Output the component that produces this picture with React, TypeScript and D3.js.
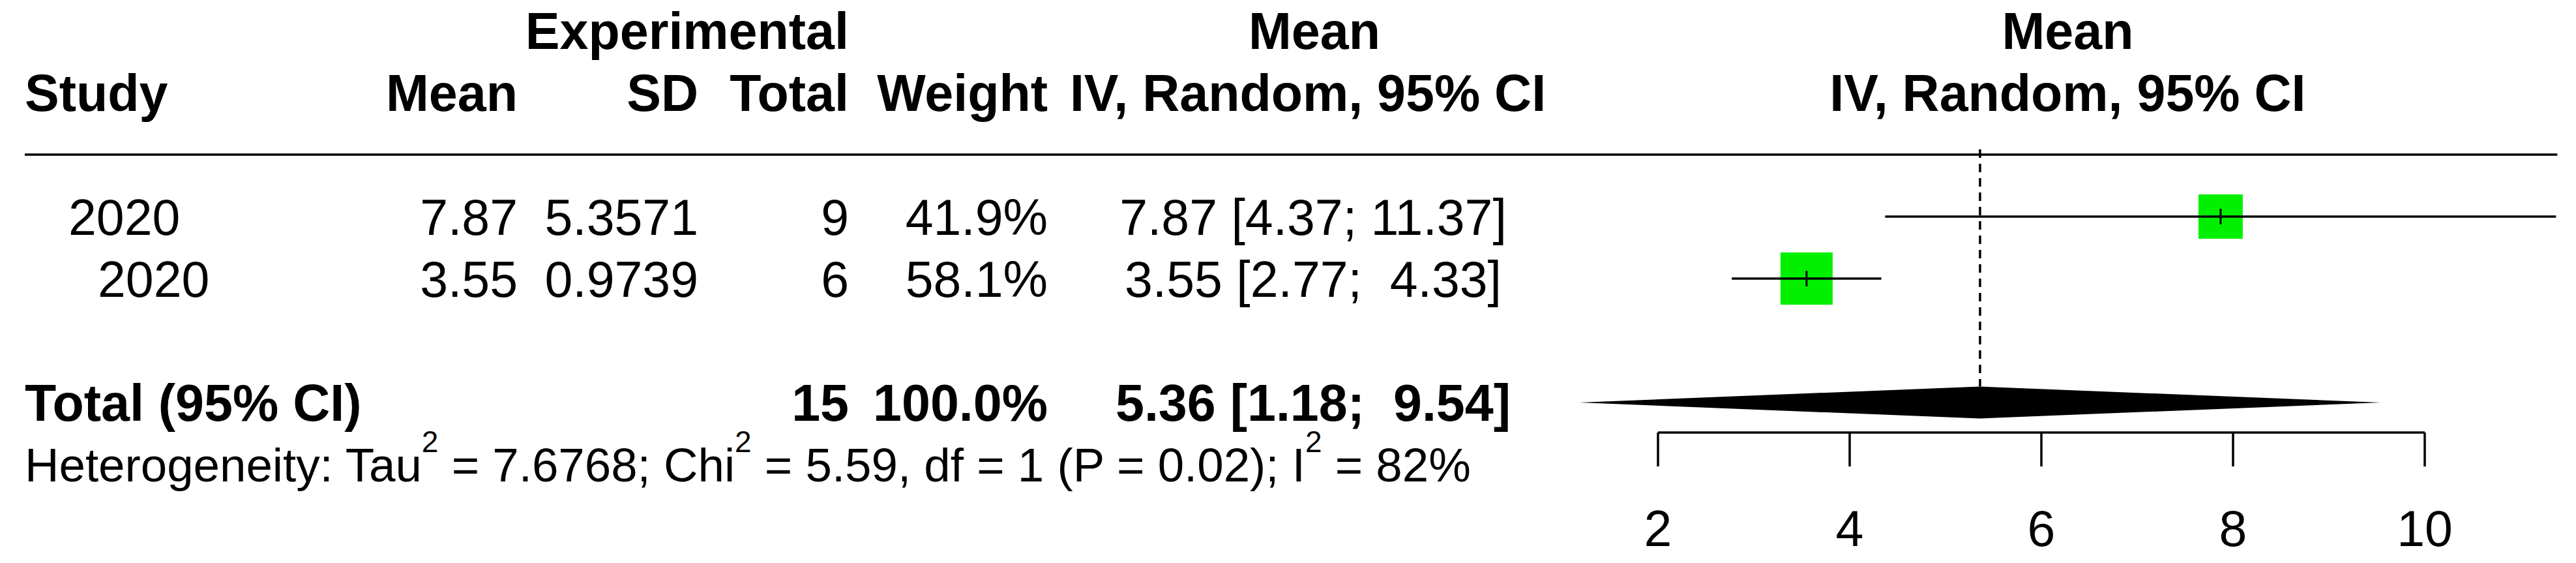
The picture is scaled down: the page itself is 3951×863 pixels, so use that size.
import React from 'react';
import * as d3 from 'd3';

// ---------- data ----------
const studyLabels = ['2020', '2020'];
const expMean = [7.87, 3.55];
const expSD = [5.3571, 0.9739];
const expTotal = [9, 6];
const weights = [41.9, 58.1];
const estimates = [7.87, 3.55];
const lowerCI = [4.37, 2.77];
const upperCI = [11.37, 4.33];
const pooledEst = 5.36;
const pooledLower = 1.18;
const pooledUpper = 9.54;
const pooledTotal = 15;
const pooledWeight = 100.0;
const hetTau2 = 7.6768;
const hetChi2 = 5.59;
const hetDf = 1;
const hetP = 0.02;
const hetI2 = 82;
const axisTicks = [2, 4, 6, 8, 10];

// ---------- layout ----------
const W = 3951;
const H = 863;
const FONT = '"Liberation Sans", Arial, Helvetica, sans-serif';
const FS = 77; // regular
const FSB = 79; // bold
const FSH = 72.7; // heterogeneity
const SUP = 46;
const studyX = 38;
const studyIndent = [105, 150];
const meanR = 794;
const sdR = 1071;
const totalR = 1302;
const weightR = 1607;
const effC = 2014;
const effHeadMeanC = 2016;
const effHeadC = 2006;
const GREEN = '#00f000';

const yRow = d3.scaleLinear().domain([0, 1]).range([332, 427]);
const x = d3.scaleLinear().domain([2, 10]).range([2543, 3719]);
const plotLo = d3.min(lowerCI.concat([pooledLower])) as number;
const plotHi = d3.max(upperCI.concat([pooledUpper])) as number;
const plotC = x((plotLo + plotHi) / 2);

const base = (cy: number, fs: number) => cy + 0.358 * fs;
const f2 = (v: number) => v.toFixed(2);
const ciText = (e: number, lo: number, hi: number, hiMax: number) => {
  const hs = f2(hi);
  const pad = f2(hiMax).length - hs.length;
  return `${f2(e)} [${f2(lo)}; ${' '.repeat(Math.max(0, pad))}${hs}]`;
};

export default function App() {
  const hiMax = d3.max(upperCI.concat([pooledUpper])) as number;
  const headerY1 = yRow(-3);
  const headerY2 = yRow(-2);
  const lineY = yRow(-1);
  const totalY = yRow(3);
  const hetY = yRow(4);
  const axisY = 663;
  const tickLen = 52;
  const tickLabelY = 837;
  const diamondH = 24.5;
  const boxK = 80 / Math.sqrt(d3.max(weights) as number);

  const txt = (props: any, s: string, bold = false) => (
    <text
      {...props}
      fontFamily={FONT}
      fontSize={bold ? FSB : FS}
      fontWeight={bold ? 'bold' : 'normal'}
      fill="#000"
      style={{ whiteSpace: 'pre' }}
    >
      {s}
    </text>
  );

  return (
    <svg
      width={W}
      height={H}
      viewBox={`0 0 ${W} ${H}`}
      style={{ position: 'absolute', left: 0, top: 0, display: 'block', background: '#fff' }}
    >
      <rect x={0} y={0} width={W} height={H} fill="#fff" />
      {/* headers */}
      {txt({ x: totalR, y: base(headerY1, FSB), textAnchor: 'end' }, 'Experimental', true)}
      {txt({ x: effHeadMeanC, y: base(headerY1, FSB), textAnchor: 'middle' }, 'Mean', true)}
      {txt({ x: plotC, y: base(headerY1, FSB), textAnchor: 'middle' }, 'Mean', true)}
      {txt({ x: studyX, y: base(headerY2, FSB), textAnchor: 'start' }, 'Study', true)}
      {txt({ x: meanR, y: base(headerY2, FSB), textAnchor: 'end' }, 'Mean', true)}
      {txt({ x: sdR, y: base(headerY2, FSB), textAnchor: 'end' }, 'SD', true)}
      {txt({ x: totalR, y: base(headerY2, FSB), textAnchor: 'end' }, 'Total', true)}
      {txt({ x: weightR, y: base(headerY2, FSB), textAnchor: 'end' }, 'Weight', true)}
      {txt({ x: effHeadC, y: base(headerY2, FSB), textAnchor: 'middle' }, 'IV, Random, 95% CI', true)}
      {txt({ x: plotC, y: base(headerY2, FSB), textAnchor: 'middle' }, 'IV, Random, 95% CI', true)}

      <line x1={studyX} x2={x(plotHi) + 2} y1={lineY} y2={lineY} stroke="#000" strokeWidth={3.5} />

      {/* reference dashed line at pooled estimate */}
      <line
        x1={x(pooledEst)}
        x2={x(pooledEst)}
        y1={lineY - 8}
        y2={totalY - diamondH}
        stroke="#000"
        strokeWidth={3.5}
        strokeDasharray="13,9"
      />

      {/* study rows */}
      {studyLabels.map((s, i) => {
        const cy = yRow(i);
        const b = base(cy, FS);
        const side = boxK * Math.sqrt(weights[i]);
        return (
          <g key={i}>
            {txt({ x: studyIndent[i], y: b, textAnchor: 'start' }, s)}
            {txt({ x: meanR, y: b, textAnchor: 'end' }, f2(expMean[i]))}
            {txt({ x: sdR, y: b, textAnchor: 'end' }, expSD[i].toFixed(4))}
            {txt({ x: totalR, y: b, textAnchor: 'end' }, String(expTotal[i]))}
            {txt({ x: weightR, y: b, textAnchor: 'end' }, weights[i].toFixed(1) + '%')}
            {txt({ x: effC, y: b, textAnchor: 'middle' }, ciText(estimates[i], lowerCI[i], upperCI[i], hiMax))}
            <rect
              x={x(estimates[i]) - side / 2}
              y={cy - side / 2}
              width={side}
              height={side}
              fill={GREEN}
            />
            <line x1={x(lowerCI[i])} x2={x(upperCI[i])} y1={cy} y2={cy} stroke="#000" strokeWidth={3.5} />
            <line
              x1={x(estimates[i])}
              x2={x(estimates[i])}
              y1={cy - 12}
              y2={cy + 12}
              stroke="#000"
              strokeWidth={3}
            />
          </g>
        );
      })}

      {/* total row */}
      {txt({ x: studyX, y: base(totalY, FSB), textAnchor: 'start' }, 'Total (95% CI)', true)}
      {txt({ x: totalR, y: base(totalY, FSB), textAnchor: 'end' }, String(pooledTotal), true)}
      {txt({ x: weightR, y: base(totalY, FSB), textAnchor: 'end' }, pooledWeight.toFixed(1) + '%', true)}
      {txt({ x: effC, y: base(totalY, FSB), textAnchor: 'middle' }, ciText(pooledEst, pooledLower, pooledUpper, hiMax), true)}
      <polygon
        points={[
          [x(pooledLower), totalY],
          [x(pooledEst), totalY - diamondH],
          [x(pooledUpper), totalY],
          [x(pooledEst), totalY + diamondH],
        ]
          .map((p) => p.join(','))
          .join(' ')}
        fill="#000"
      />

      {/* heterogeneity */}
      <text x={studyX} y={base(hetY, FSH)} fontFamily={FONT} fontSize={FSH} fill="#000" style={{ whiteSpace: 'pre' }}>
        <tspan>Heterogeneity: Tau</tspan>
        <tspan fontSize={SUP} dy={-45}>2</tspan>
        <tspan dy={45}>{` = ${hetTau2.toFixed(4)}; Chi`}</tspan>
        <tspan fontSize={SUP} dy={-45}>2</tspan>
        <tspan dy={45}>{` = ${hetChi2.toFixed(2)}, df = ${hetDf} (P = ${hetP.toFixed(2)}); I`}</tspan>
        <tspan fontSize={SUP} dy={-45}>2</tspan>
        <tspan dy={45}>{` = ${hetI2}%`}</tspan>
      </text>

      {/* axis */}
      <line
        x1={x(axisTicks[0])}
        x2={x(axisTicks[axisTicks.length - 1])}
        y1={axisY}
        y2={axisY}
        stroke="#000"
        strokeWidth={3.5}
      />
      {axisTicks.map((t) => (
        <g key={t}>
          <line x1={x(t)} x2={x(t)} y1={axisY} y2={axisY + tickLen} stroke="#000" strokeWidth={3.5} />
          {txt({ x: x(t), y: tickLabelY, textAnchor: 'middle' }, String(t))}
        </g>
      ))}
    </svg>
  );
}
